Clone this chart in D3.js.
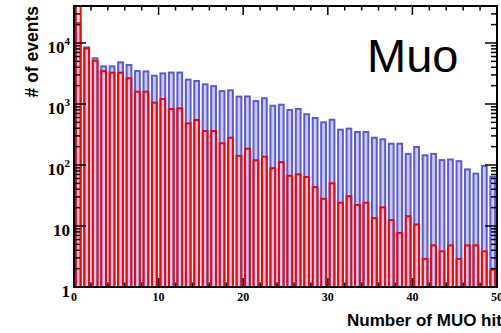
<!DOCTYPE html>
<html>
<head>
<meta charset="utf-8">
<script src="https://cdn.jsdelivr.net/npm/d3@7"></script>
<style>
  html, body { margin: 0; padding: 0; background: #fff; }
  svg { display: block; }
</style>
</head>
<body>
<svg id="chart" width="501" height="333"></svg>
<script>
// Number of MUO hits per event, bins of width 1 starting at 0
const bins = d3.range(0, 50);

// all events (blue histogram)
const allCounts = [
  22000, 8800, 5830, 4300, 4300, 5000, 4530, 3600, 3550, 3020,
  3300, 3400, 3400, 2600, 2475, 2180, 2040, 1690, 1740, 1370,
  1380, 1160, 1290, 975, 1010, 828, 860, 705, 612, 520,
  574, 394, 410, 361, 361, 291, 274, 232, 232, 158,
  205, 150, 158, 125, 128, 120, 88, 75, 100, 67
];

// selected events (red histogram)
const selCounts = [
  60000, 8500, 5300, 3600, 3380, 3380, 2740, 1650, 1650, 1090,
  1250, 860, 883, 500, 568, 375, 375, 236, 291, 147,
  192, 124, 142, 92, 116, 69, 73, 66, 45, 29,
  52, 25, 32, 23, 25, 14, 21, 13, 8, 15,
  11, 3, 5, 4, 5, 3, 5, 5, 4, 2
];

const xTickValues = [0, 10, 20, 30, 40, 50];
const yMajorTicks = [1, 10, 100, 1000, 10000];
const yLabelTexts = ["1", "10", "10|2", "10|3", "10|4"]; // base|exponent
const xTitle = "Number of MUO hits";
const yTitle = "# of events";
const tagText = "Muo";

const padL = 74, padR = 497, padT = 6, padB = 287;

const svg = d3.select("#chart");

const x = d3.scaleLinear().domain([0, 50]).range([padL, padR]);
const y = d3.scaleLog().domain([1, 40400]).range([padB, padT]);

svg.append("defs").append("clipPath").attr("id", "plotClip")
  .append("rect").attr("x", padL).attr("y", padT)
  .attr("width", padR - padL).attr("height", padB - padT);

const plot = svg.append("g").attr("clip-path", "url(#plotClip)");

const sw = 2;
const barL = 0.1, barR = 0.9;

function drawBars(counts, stroke, fill) {
  plot.append("g").selectAll("rect").data(bins).join("rect")
    .attr("x", d => x(d + barL) + sw / 2)
    .attr("width", d => x(d + barR) - x(d + barL) - sw)
    .attr("y", d => y(counts[d]) + sw / 2)
    .attr("height", d => padB - y(counts[d]))
    .attr("fill", fill)
    .attr("stroke", stroke)
    .attr("stroke-width", sw);
}

drawBars(allCounts, "#5a5ad8", "#cacaf3");
drawBars(selCounts, "#ff0000", "none");

// frame
const axes = svg.append("g").attr("stroke", "#000").attr("fill", "none");
axes.append("rect").attr("x", padL).attr("y", padT)
  .attr("width", padR - padL).attr("height", padB - padT)
  .attr("stroke-width", 2);

// x ticks: major every 10, minor every 2, on bottom and top
const xMinor = d3.range(0, 51, 2).filter(v => v % 10 !== 0);
xTickValues.forEach(v => {
  axes.append("line").attr("x1", x(v)).attr("x2", x(v)).attr("y1", padB).attr("y2", padB - 9).attr("stroke-width", 1.5);
  axes.append("line").attr("x1", x(v)).attr("x2", x(v)).attr("y1", padT).attr("y2", padT + 9).attr("stroke-width", 1.5);
});
xMinor.forEach(v => {
  axes.append("line").attr("x1", x(v)).attr("x2", x(v)).attr("y1", padB).attr("y2", padB - 4.5).attr("stroke-width", 1.5);
  axes.append("line").attr("x1", x(v)).attr("x2", x(v)).attr("y1", padT).attr("y2", padT + 4.5).attr("stroke-width", 1.5);
});

// y ticks: decades and 2..9 subdivisions, on left and right
const yMinor = [];
[1, 10, 100, 1000, 10000].forEach(d => {
  for (let k = 2; k <= 9; k++) if (d * k <= 40400) yMinor.push(d * k);
});
yMajorTicks.forEach(v => {
  axes.append("line").attr("x1", padL).attr("x2", padL + 12).attr("y1", y(v)).attr("y2", y(v)).attr("stroke-width", 1.5);
  axes.append("line").attr("x1", padR).attr("x2", padR - 12).attr("y1", y(v)).attr("y2", y(v)).attr("stroke-width", 1.5);
});
yMinor.forEach(v => {
  axes.append("line").attr("x1", padL).attr("x2", padL + 6).attr("y1", y(v)).attr("y2", y(v)).attr("stroke-width", 1.5);
  axes.append("line").attr("x1", padR).attr("x2", padR - 6).attr("y1", y(v)).attr("y2", y(v)).attr("stroke-width", 1.5);
});

// x tick labels
svg.append("g").selectAll("text").data(xTickValues).join("text")
  .attr("x", d => x(d)).attr("y", 301)
  .attr("text-anchor", "middle")
  .attr("font-family", "'Liberation Serif', 'Times New Roman', serif")
  .attr("font-weight", "bold").attr("font-size", 12)
  .text(d => d);

// y tick labels
const yl = svg.append("g")
  .attr("font-family", "'Liberation Serif', 'Times New Roman', serif")
  .attr("font-weight", "bold");
yMajorTicks.forEach((v, i) => {
  const parts = yLabelTexts[i].split("|");
  const t = yl.append("text").attr("x", 70).attr("y", y(v) + 10)
    .attr("text-anchor", "end").attr("font-size", 17);
  t.append("tspan").text(parts[0]);
  if (parts[1]) t.append("tspan").attr("font-size", 11).attr("dy", -8).text(parts[1]);
});

// axis titles
svg.append("text")
  .attr("transform", `translate(38, ${padT}) rotate(-90)`)
  .attr("text-anchor", "end")
  .attr("font-family", "'Liberation Sans', Arial, sans-serif")
  .attr("font-weight", "bold").attr("font-size", 17.5)
  .text(yTitle);

svg.append("text")
  .attr("x", 347).attr("y", 326)
  .attr("font-family", "'Liberation Sans', Arial, sans-serif")
  .attr("font-weight", "bold").attr("font-size", 17)
  .text(xTitle);

svg.append("text")
  .attr("x", 367).attr("y", 72)
  .attr("font-family", "'Liberation Sans', Arial, sans-serif")
  .attr("font-size", 47)
  .text(tagText);
</script>
</body>
</html>
